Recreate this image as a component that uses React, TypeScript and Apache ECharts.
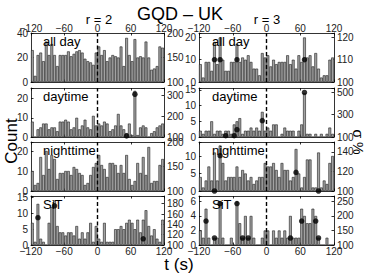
import React, { useEffect, useRef } from "react";
import * as echarts from "echarts";

// ---- data ----
const binCenters = [
  -117.5, -112.5, -107.5, -102.5, -97.5, -92.5, -87.5, -82.5, -77.5, -72.5, -67.5, -62.5,
  -57.5, -52.5, -47.5, -42.5, -37.5, -32.5, -27.5, -22.5, -17.5, -12.5, -7.5, -2.5,
  2.5, 7.5, 12.5, 17.5, 22.5, 27.5, 32.5, 37.5, 42.5, 47.5, 52.5, 57.5,
  62.5, 67.5, 72.5, 77.5, 82.5, 87.5, 92.5, 97.5, 102.5, 107.5, 112.5, 117.5,
];
const xTicks = [-120, -60, 0, 60, 120];

const r2AllDay = [26, 5, 22, 24, 17, 33, 22, 31, 22, 13, 22, 22, 22, 25, 21, 23, 25, 26, 24, 19, 17, 16, 14, 24, 29, 22, 26, 17, 20, 22, 21, 20, 29, 13, 36, 22, 17, 35, 20, 21, 20, 33, 20, 10, 11, 13, 29, 28];
const r2Daytime = [8, 0, 4, 5, 7, 7, 4, 5, 5, 3, 8, 8, 9, 8, 4, 5, 10, 4, 6, 9, 5, 4, 11, 6, 7, 6, 8, 7, 3, 4, 6, 12, 6, 4, 2, 7, 1, 24, 1, 5, 6, 5, 0, 2, 3, 5, 6, 7];
const r2Nighttime = [10, 3, 4, 17, 8, 20, 11, 18, 16, 6, 9, 9, 10, 10, 8, 12, 11, 9, 8, 3, 4, 8, 12, 14, 18, 13, 11, 7, 14, 14, 13, 9, 13, 9, 18, 6, 3, 5, 14, 9, 17, 8, 22, 4, 5, 5, 13, 16];
const r2SiT = [7, 1, 13, 2, 1, 0, 7, 12, 14, 6, 4, 4, 3, 4, 4, 3, 6, 2, 4, 2, 4, 7, 1, 6, 2, 1, 7, 1, 1, 1, 5, 5, 6, 5, 7, 8, 7, 5, 8, 4, 8, 11, 6, 3, 5, 2, 1, 8];

const r3AllDay = [8, 2, 9, 9, 5, 18, 8, 20, 10, 5, 5, 9, 9, 17, 9, 11, 10, 12, 9, 6, 6, 3, 13, 11, 12, 7, 10, 8, 9, 9, 9, 12, 8, 10, 6, 12, 9, 20, 11, 12, 7, 13, 6, 2, 3, 3, 10, 11];
const r3Daytime = [2, 1, 2, 2, 5, 1, 2, 2, 1, 2, 2, 1, 4, 5, 6, 1, 2, 2, 3, 2, 3, 2, 8, 2, 3, 2, 4, 4, 0, 1, 3, 2, 2, 2, 0, 2, 4, 14, 1, 1, 0, 1, 0, 1, 0, 1, 3, 1];
const r3Nighttime = [4, 1, 3, 7, 3, 11, 3, 13, 8, 3, 4, 4, 4, 7, 4, 6, 5, 3, 4, 2, 3, 4, 4, 8, 7, 7, 8, 6, 4, 8, 6, 6, 3, 4, 12, 5, 1, 4, 9, 9, 1, 1, 11, 1, 3, 2, 8, 10];
const r3SiT = [2, 1, 5, 1, 0, 1, 1, 6, 1, 0, 0, 1, 0, 6, 3, 1, 4, 1, 4, 1, 0, 0, 1, 2, 2, 0, 2, 1, 2, 1, 2, 1, 4, 1, 1, 1, 5, 4, 3, 3, 5, 4, 1, 0, 0, 1, 0, 0];

// significance points [t, sigma %]
const r2AllDayDots: number[][] = [];
const r2DaytimeDots = [[52.5, 105], [67.5, 305]];
const r2NighttimeDots: number[][] = [];
const r2SiTDots = [[-107.5, 153], [-77.5, 176], [82.5, 112]];
const r3AllDayDots = [[-92.5, 110], [-82.5, 110], [-52.5, 110], [67.5, 110]];
const r3DaytimeDots = [[-72.5, 112], [-57.5, 112], [-52.5, 166], [-7.5, 247], [67.5, 500]];
const r3NighttimeDots = [[-92.5, 100], [-82.5, 136], [52.5, 119], [92.5, 100]];
const r3SiTDots = [[-107.5, 182], [-92.5, 124], [-82.5, 242], [-52.5, 242], [-42.5, 124], [-32.5, 124], [42.5, 124], [62.5, 182], [87.5, 182], [92.5, 124]];

const panelLabels = ["all day", "daytime", "nighttime", "SiT"];
const columnTitles = ["r = 2", "r = 3"];
const eventTime = 0;

// ---- layout ----
const FONT = "'Liberation Sans', Arial, Helvetica, sans-serif";
const colLeft = [31, 199];
const colWidth = [133, 135];
const rowTop = [33, 88, 142, 196];
const rowH = 49;

type Panel = {
  col: number; row: number; counts: number[]; dots: number[][];
  lMax: number; lInt: number; rMax: number; rInt: number;
};

const panels: Panel[] = [
  { col: 0, row: 0, counts: r2AllDay, dots: r2AllDayDots, lMax: 40, lInt: 20, rMax: 200, rInt: 50 },
  { col: 0, row: 1, counts: r2Daytime, dots: r2DaytimeDots, lMax: 25.5, lInt: 10, rMax: 335, rInt: 100 },
  { col: 0, row: 2, counts: r2Nighttime, dots: r2NighttimeDots, lMax: 24.5, lInt: 10, rMax: 200, rInt: 50 },
  { col: 0, row: 3, counts: r2SiT, dots: r2SiTDots, lMax: 15.5, lInt: 5, rMax: 195, rInt: 20 },
  { col: 1, row: 0, counts: r3AllDay, dots: r3AllDayDots, lMax: 22, lInt: 10, rMax: 122, rInt: 10 },
  { col: 1, row: 1, counts: r3Daytime, dots: r3DaytimeDots, lMax: 15.6, lInt: 5, rMax: 540, rInt: 200 },
  { col: 1, row: 2, counts: r3Nighttime, dots: r3NighttimeDots, lMax: 14, lInt: 5, rMax: 150, rInt: 20 },
  { col: 1, row: 3, counts: r3SiT, dots: r3SiTDots, lMax: 6.75, lInt: 2, rMax: 268, rInt: 50 },
];

function onStep(v: number, base: number, step: number) {
  const q = (v - base) / step;
  return Math.abs(q - Math.round(q)) < 1e-6;
}
const fmtX = (v: number) => (xTicks.includes(v) ? (v < 0 ? "\u2212" + Math.abs(v) : String(v)) : "");

function buildOption() {
  const grid: any[] = [];
  const xAxis: any[] = [];
  const yAxis: any[] = [];
  const series: any[] = [];
  const axisLine = { show: true, onZero: false, lineStyle: { color: "#000", width: 0.8 } };
  const tick = { show: true, inside: true, length: 2.5, lineStyle: { color: "#000", width: 0.8 } };
  const lbl = { fontSize: 10, color: "#222", fontFamily: FONT };

  panels.forEach((p, k) => {
    grid.push({ left: colLeft[p.col], top: rowTop[p.row], width: colWidth[p.col], height: rowH, containLabel: false });
    xAxis.push({
      type: "value", gridIndex: k, position: "bottom", min: -120, max: 120, interval: 60,
      axisLine, axisTick: tick, splitLine: { show: false },
      axisLabel: { ...lbl, show: p.row === 3, margin: 1, formatter: fmtX },
    });
    xAxis.push({
      type: "value", gridIndex: k, position: "top", min: -120, max: 120, interval: 60,
      axisLine, axisTick: tick, splitLine: { show: false },
      axisLabel: { ...lbl, show: p.row === 0, margin: 0, formatter: fmtX },
    });
    yAxis.push({
      type: "value", gridIndex: k, position: "left", min: 0, max: p.lMax, interval: p.lInt,
      axisLine, axisTick: tick, splitLine: { show: false },
      axisLabel: { ...lbl, margin: 3, formatter: (v: number) => (onStep(v, 0, p.lInt) ? String(v) : "") },
    });
    yAxis.push({
      type: "value", gridIndex: k, position: "right", min: 100, max: p.rMax, interval: p.rInt,
      axisLine, axisTick: tick, splitLine: { show: false },
      axisLabel: { ...lbl, margin: 3, formatter: (v: number) => (onStep(v, 100, p.rInt) ? String(v) : "") },
    });
    series.push({
      type: "bar", xAxisIndex: 2 * k, yAxisIndex: 2 * k, silent: true,
      barWidth: colWidth[p.col] / binCenters.length,
      data: binCenters.map((t, i) => [t, p.counts[i]]),
      itemStyle: { color: "#a2a2a2", borderColor: "#1e1e1e", borderWidth: 0.6 },
    });
    series.push({
      type: "line", xAxisIndex: 2 * k, yAxisIndex: 2 * k, silent: true,
      data: [[eventTime, 0], [eventTime, p.lMax]], symbol: "none", z: 4,
      lineStyle: { color: "#000", type: [4, 2.5], width: 1.4 },
    });
    series.push({
      type: "scatter", xAxisIndex: 2 * k, yAxisIndex: 2 * k + 1, silent: true,
      symbol: "circle", symbolSize: 5.5,
      data: p.dots, itemStyle: { color: "#000" }, z: 5,
    });
  });

  const graphic: any[] = [];
  const txt = (text: string, x: number, y: number, size: number, align = "center", rotation = 0) => ({
    type: "text", x, y, rotation, silent: true, z: 10,
    style: { text, fill: "#000", fontSize: size, fontFamily: FONT, align, verticalAlign: "middle" },
  });
  graphic.push(txt("GQD \u2013 UK", 180, 14, 18));
  graphic.push(txt(columnTitles[0], 99, 19, 13));
  graphic.push(txt(columnTitles[1], 267, 19, 13));
  panels.forEach((p) => {
    graphic.push(txt(panelLabels[p.row], colLeft[p.col] + (p.col === 0 ? 12 : 13), rowTop[p.row] + 8, 13, "left"));
  });
  graphic.push(txt("Count", 11, 141, 17, "center", Math.PI / 2));
  graphic.push(txt("\u03c3 %", 358, 142, 14, "center", -Math.PI / 2));
  graphic.push(txt("t (s)", 179, 264, 17));

  return { animation: false, backgroundColor: "#fff", grid, xAxis, yAxis, series, graphic };
}

export default function App() {
  const ref = useRef<HTMLDivElement>(null);
  useEffect(() => {
    if (!ref.current) return;
    const chart = echarts.init(ref.current, undefined, { renderer: "svg" });
    chart.setOption(buildOption());
    return () => chart.dispose();
  }, []);
  return <div ref={ref} style={{ position: "fixed", left: 0, top: 0, width: 374, height: 279 }} />;
}
